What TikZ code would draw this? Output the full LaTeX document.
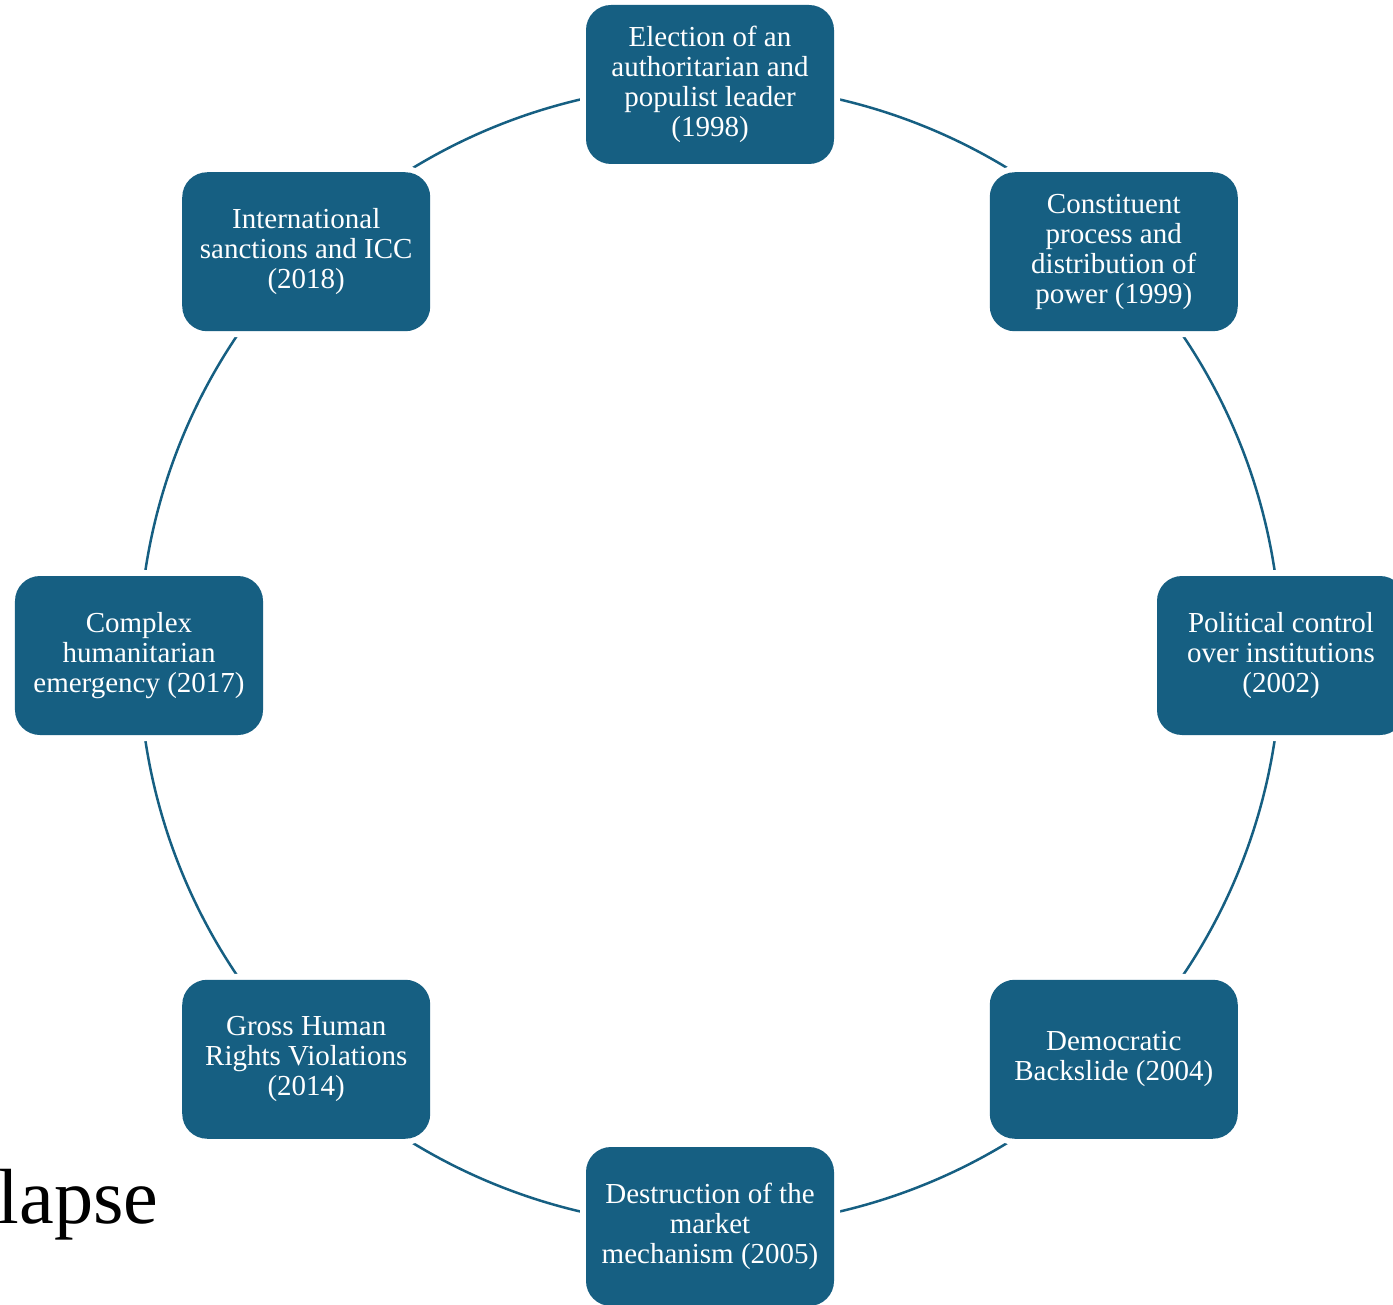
\documentclass[tikz,border=0pt]{standalone}
\usepackage{fontspec}
\setmainfont{Liberation Serif}
\usetikzlibrary{backgrounds}
\definecolor{cycleblue}{RGB}{22,95,130}

\begin{document}
\begin{tikzpicture}[
  stage/.style = {fill=cycleblue, text=white, rounded corners=0.5cm,
    minimum width=4.96cm, minimum height=3.18cm, align=center,
    font=\fontsize{16.5}{17}\selectfont,
    preaction={draw=white, line width=0.24cm}},
  link/.style = {draw=cycleblue, line width=0.05cm}]
\clip (0,0) rectangle (27.86,26.08);
\begin{scope}[shift={(14.2,12.97)}]
\node[stage] (e1998) at (90:11.42) {Election of an\\authoritarian and\\populist leader\\(1998)};
\node[stage] (e1999) at (45:11.42) {Constituent\\process and\\distribution of\\power (1999)};
\node[stage] (e2002) at (0:11.42) {Political control\\over institutions\\(2002)};
\node[stage] (e2004) at (-45:11.42) {Democratic\\Backslide (2004)};
\node[stage] (e2005) at (-90:11.42) {Destruction of the\\market\\mechanism (2005)};
\node[stage] (e2014) at (-135:11.42) {Gross Human\\Rights Violations\\(2014)};
\node[stage] (e2017) at (180:11.42) {Complex\\humanitarian\\emergency (2017)};
\node[stage] (e2018) at (135:11.42) {International\\sanctions and ICC\\(2018)};
\end{scope}
\node[anchor=base west, inner sep=0, font=\fontsize{44.5}{52}\selectfont] (collapse) at (-0.05,1.62) {lapse};
% ring of links behind the boxes
\begin{scope}[on background layer]
\draw[link] (e1998.center) to[bend left=22.5, looseness=0.885] (e1999.center);
\draw[link] (e1999.center) to[bend left=22.5, looseness=0.885] (e2002.center);
\draw[link] (e2002.center) to[bend left=22.5, looseness=0.885] (e2004.center);
\draw[link] (e2004.center) to[bend left=22.5, looseness=0.885] (e2005.center);
\draw[link] (e2005.center) to[bend left=22.5, looseness=0.885] (e2014.center);
\draw[link] (e2014.center) to[bend left=22.5, looseness=0.885] (e2017.center);
\draw[link] (e2017.center) to[bend left=22.5, looseness=0.885] (e2018.center);
\draw[link] (e2018.center) to[bend left=22.5, looseness=0.885] (e1998.center);
\end{scope}
\end{tikzpicture}
\end{document}
